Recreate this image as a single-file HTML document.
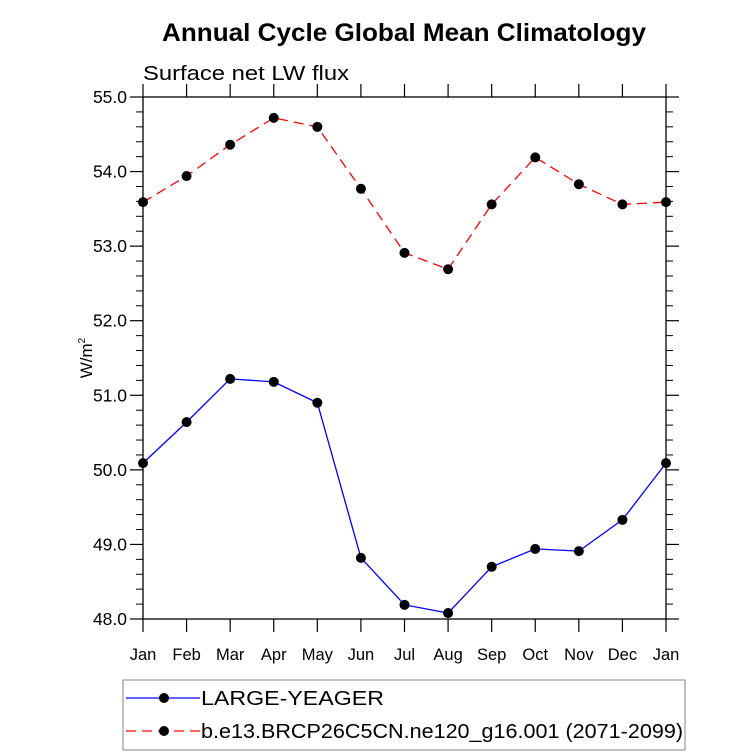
<!DOCTYPE html>
<html><head><meta charset="utf-8"><style>
body{margin:0;background:#fff;}
svg{display:block;font-family:"Liberation Sans",sans-serif;}
</style></head><body>
<svg id="c" width="733" height="755">
<text x="162" y="41" textLength="484" lengthAdjust="spacingAndGlyphs" font-size="25" font-weight="bold">Annual Cycle Global Mean Climatology</text>
<text x="143" y="80" textLength="206" lengthAdjust="spacingAndGlyphs" font-size="20">Surface net LW flux</text>
<text transform="translate(92,358) rotate(-90)" text-anchor="middle" font-size="17">W/m<tspan dy="-7" font-size="10">2</tspan></text>
<g id="axes"></g><g id="series"></g>
<g>
<rect x="123" y="680" width="562" height="70" fill="none" stroke="#999" stroke-width="1.2"/>
<g>
<line x1="126" y1="698" x2="200" y2="698" stroke="#0000ff" stroke-width="1.3"/>
<circle cx="164" cy="698" r="5" fill="#000"/>
<text x="201" y="705" textLength="183" lengthAdjust="spacingAndGlyphs" font-size="20">LARGE-YEAGER</text></g>
<g>
<line x1="126" y1="731" x2="200" y2="731" stroke="#ff0000" stroke-width="1.3" stroke-dasharray="10,6"/>
<circle cx="164" cy="731" r="5" fill="#000"/>
<text x="201" y="738" textLength="482" lengthAdjust="spacingAndGlyphs" font-size="20">b.e13.BRCP26C5CN.ne120_g16.001 (2071-2099)</text></g>
</g>
</svg>
<script>
const months=["Jan","Feb","Mar","Apr","May","Jun","Jul","Aug","Sep","Oct","Nov","Dec","Jan"];
const yTicks=[48,49,50,51,52,53,54,55];
const largeYeager=[50.09,50.64,51.22,51.18,50.90,48.82,48.19,48.08,48.70,48.94,48.91,49.33,50.09];
const brcp26=[53.59,53.94,54.36,54.72,54.60,53.77,52.91,52.69,53.56,54.19,53.83,53.56,53.59];
const NS="http://www.w3.org/2000/svg";
const L=143,R=666,T=97,B=619,ymin=48,ymax=55;
const xs=i=>L+(R-L)*i/(months.length-1);
const ys=v=>B-(B-T)*(v-ymin)/(ymax-ymin);
function mk(tag,at,parent){const e=document.createElementNS(NS,tag);for(const k in at)e.setAttribute(k,at[k]);parent.appendChild(e);return e;}
const ax=document.getElementById('axes');
const fr=mk('rect',{x:L,y:T,width:R-L,height:B-T,fill:'none',stroke:'#000','stroke-width':1.3},ax);


yTicks.forEach(v=>{
 const y=ys(v);
 mk('line',{x1:L-13,y1:y,x2:L,y2:y,stroke:'#000','stroke-width':1.2},ax);
 mk('line',{x1:R,y1:y,x2:R+13,y2:y,stroke:'#000','stroke-width':1.2},ax);
 const t=mk('text',{x:L-16,y:y+6,'text-anchor':'end','font-size':17.5},ax);
 t.textContent=v.toFixed(1);
 
 
 if(v<ymax){for(let k=1;k<5;k++){const ym=ys(v+k*0.2);
  mk('line',{x1:L-7,y1:ym,x2:L,y2:ym,stroke:'#000','stroke-width':1},ax);
  mk('line',{x1:R,y1:ym,x2:R+7,y2:ym,stroke:'#000','stroke-width':1},ax);}}
});
months.forEach((m,i)=>{
 const x=xs(i);
 mk('line',{x1:x,y1:B,x2:x,y2:B+13,stroke:'#000','stroke-width':1.2},ax);
 mk('line',{x1:x,y1:T-13,x2:x,y2:T,stroke:'#000','stroke-width':1.2},ax);
 const t=mk('text',{x:x,y:B+41,'text-anchor':'middle','font-size':16.5},ax);
 t.textContent=m;
 
 
});
const sg=document.getElementById('series');
function draw(vals,color,dash,name){
 const g=mk('g',{},sg);
 
 
 mk('polyline',{points:vals.map((v,i)=>xs(i)+','+ys(v)).join(' '),fill:'none',stroke:color,'stroke-width':1.3,'stroke-dasharray':dash},g);
 vals.forEach((v,i)=>{const c=mk('circle',{cx:xs(i),cy:ys(v),r:5,fill:'#000'},g);
  
  });
}
draw(largeYeager,'#0000ff','none','series-large-yeager');
draw(brcp26,'#ff0000','10,6','series-brcp26');
</script>
</body></html>
